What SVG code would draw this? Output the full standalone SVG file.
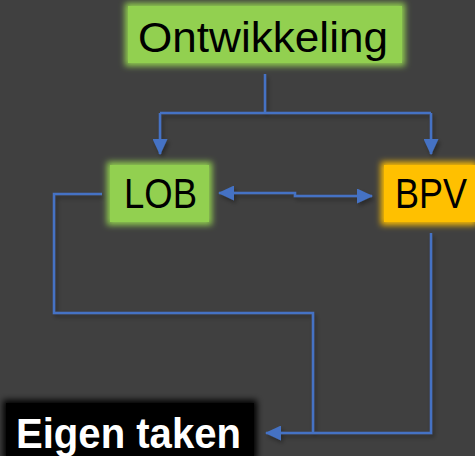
<svg xmlns="http://www.w3.org/2000/svg" width="475" height="456" viewBox="0 0 475 456">
  <defs>
    <filter id="glow" x="-20%" y="-30%" width="140%" height="160%">
      <feGaussianBlur in="SourceGraphic" stdDeviation="3"/>
    </filter>
    <filter id="shadow" x="-10%" y="-10%" width="130%" height="130%">
      <feGaussianBlur in="SourceAlpha" stdDeviation="2"/>
      <feOffset dx="2" dy="3" result="b"/>
      <feComponentTransfer><feFuncA type="linear" slope="0.35"/></feComponentTransfer>
      <feMerge><feMergeNode/><feMergeNode in="SourceGraphic"/></feMerge>
    </filter>
    <marker id="arrow" viewBox="0 0 16 15" refX="15" refY="7.5" markerWidth="16" markerHeight="15" markerUnits="userSpaceOnUse" orient="auto-start-reverse">
      <path d="M0,0 L16,7.5 L0,15 Z" fill="#4472C4"/>
    </marker>
  </defs>
  <style>
    .line { fill: none; stroke: #4472C4; stroke-width: 2.5; }
    .lbl { font-family: "Liberation Sans", Arial, sans-serif; font-size: 42px; fill: #000; }
    .lblw { font-family: "Liberation Sans", Arial, sans-serif; font-size: 42px; font-weight: bold; fill: #fff; }
  </style>
  <rect x="0" y="0" width="475" height="456" fill="#404040"/>

  <g id="connectors" filter="url(#shadow)">
    <path class="line" d="M265,74 V113 M160,113 H431" />
    <path class="line" d="M160,113 V154" marker-end="url(#arrow)"/>
    <path class="line" d="M431,113 V154" marker-end="url(#arrow)"/>
    <path class="line" d="M219,193 H295 V196 H372" marker-start="url(#arrow)" marker-end="url(#arrow)"/>
    <path class="line" d="M102,194 H54 V313 H313 V433"/>
    <path class="line" d="M431,233 V433 H266" marker-end="url(#arrow)"/>
  </g>

  <g id="ontwikkeling">
    <rect x="125" y="3" width="280" height="63" fill="#92D050" filter="url(#glow)"/>
    <rect x="128" y="6" width="274" height="57" fill="#92D050"/>
    <text class="lbl" x="138" y="52" textLength="250" lengthAdjust="spacingAndGlyphs">Ontwikkeling</text>
  </g>

  <g id="lob">
    <rect x="107" y="162" width="105" height="63" fill="#92D050" filter="url(#glow)"/>
    <rect x="110" y="165" width="99" height="57" fill="#92D050"/>
    <text class="lbl" x="124" y="208" textLength="73" lengthAdjust="spacingAndGlyphs">LOB</text>
  </g>

  <g id="bpv">
    <rect x="381" y="162" width="96" height="63" fill="#FFC000" filter="url(#glow)"/>
    <rect x="384" y="165" width="91" height="57" fill="#FFC000"/>
    <text class="lbl" x="395" y="208" textLength="72" lengthAdjust="spacingAndGlyphs">BPV</text>
  </g>

  <g id="eigen-taken">
    <rect x="3" y="400" width="254" height="60" fill="#000" filter="url(#glow)"/>
    <rect x="6" y="403" width="248" height="56" fill="#000"/>
    <text class="lblw" x="16" y="448" textLength="225" lengthAdjust="spacingAndGlyphs">Eigen taken</text>
  </g>
</svg>
